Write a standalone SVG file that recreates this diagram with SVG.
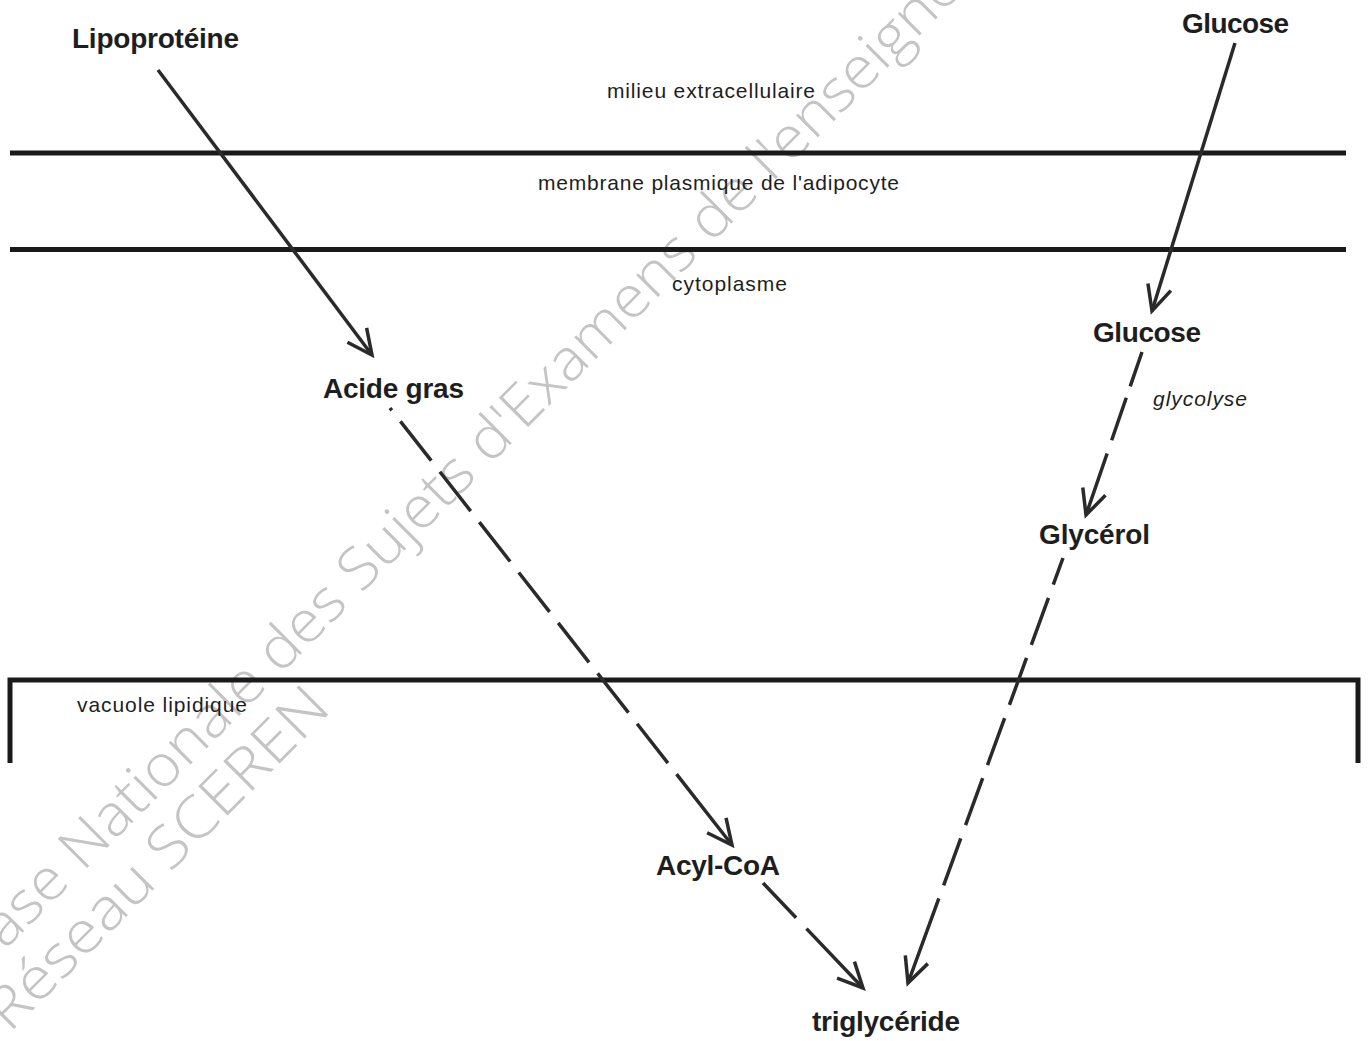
<svg xmlns="http://www.w3.org/2000/svg" width="1369" height="1041" viewBox="0 0 1369 1041">
<style>
.node{font-family:"Liberation Sans",Arial,sans-serif;font-weight:bold;font-size:28px;fill:#1e1e1e}
.lbl{font-family:"Liberation Sans",Arial,sans-serif;font-size:21px;fill:#1e1e1e}
.it{font-style:italic}
.wm{font-family:"Open Sans","DejaVu Sans",sans-serif;font-weight:300;font-size:58px;fill:#c4c4c4}
.mem{stroke:#1a1a1a;stroke-width:5;fill:none}
.arr{stroke:#2a2a2a;stroke-width:3.5;fill:none;stroke-linecap:butt}
</style>
<defs>
<marker id="ah" viewBox="-30 -16 34 32" refX="0" refY="0" markerWidth="34" markerHeight="32" markerUnits="userSpaceOnUse" orient="auto-start-reverse">
<path d="M-25,-12 L0,0 L-25,12" fill="none" stroke="#2a2a2a" stroke-width="3.5" stroke-linejoin="miter"/>
</marker>
</defs>
<rect width="1369" height="1041" fill="#ffffff"/>
<g id="watermark">
<text class="wm" transform="translate(-22.5,977.5) rotate(-45)" textLength="1541" lengthAdjust="spacingAndGlyphs">Base Nationale des Sujets d'Examens de l'enseignement</text>
<text class="wm" transform="translate(9.5,1033.5) rotate(-45)" textLength="457" lengthAdjust="spacingAndGlyphs">Réseau SCEREN</text>
</g>
<g id="compartments">
<line class="mem" x1="10" y1="153" x2="1346" y2="153"/>
<line class="mem" x1="10" y1="249.5" x2="1346" y2="249.5"/>
<path class="mem" d="M10,763 L10,680 L1358,680 L1358,763"/>
<text class="lbl" x="607" y="98" textLength="208">milieu extracellulaire</text>
<text class="lbl" x="538" y="190" textLength="361">membrane plasmique de l'adipocyte</text>
<text class="lbl" x="672" y="291" textLength="115">cytoplasme</text>
<text class="lbl" x="77" y="712" textLength="170">vacuole lipidique</text>
</g>
<g id="connectors">
<path class="arr" d="M372,355 L158,70" marker-start="url(#ah)"/>
<path class="arr" d="M1152,311 L1235,43" marker-start="url(#ah)"/>
<path class="arr" d="M732,845 L390,408" stroke-dasharray="90 14 50 14 50 14 50 14 50 14 50 14 50 14 50 14 50 100" marker-start="url(#ah)"/>
<path class="arr" d="M863,988 L763,883" stroke-dasharray="82 15 50 100" marker-start="url(#ah)"/>
<path class="arr" d="M1086,515 L1142,352" stroke-dasharray="65 14 45 12 40 100" marker-start="url(#ah)"/>
<path class="arr" d="M908,983 L1063,558" stroke-dasharray="90 14 50 14 50 14 50 14 50 14 50 14 50 200" marker-start="url(#ah)"/>
<text class="lbl it" x="1153" y="406" textLength="94">glycolyse</text>
</g>
<g id="n-lipoproteine"><text class="node" x="72" y="48" textLength="167">Lipoprotéine</text></g>
<g id="n-glucose-ext"><text class="node" x="1182" y="33" textLength="107">Glucose</text></g>
<g id="n-acide-gras"><text class="node" x="323" y="398" textLength="141">Acide gras</text></g>
<g id="n-glucose-cyto"><text class="node" x="1093" y="342" textLength="108">Glucose</text></g>
<g id="n-glycerol"><text class="node" x="1039" y="544" textLength="111">Glycérol</text></g>
<g id="n-acyl-coa"><text class="node" x="656" y="875" textLength="124">Acyl-CoA</text></g>
<g id="n-triglyceride"><text class="node" x="812" y="1031" textLength="148">triglycéride</text></g>
</svg>
